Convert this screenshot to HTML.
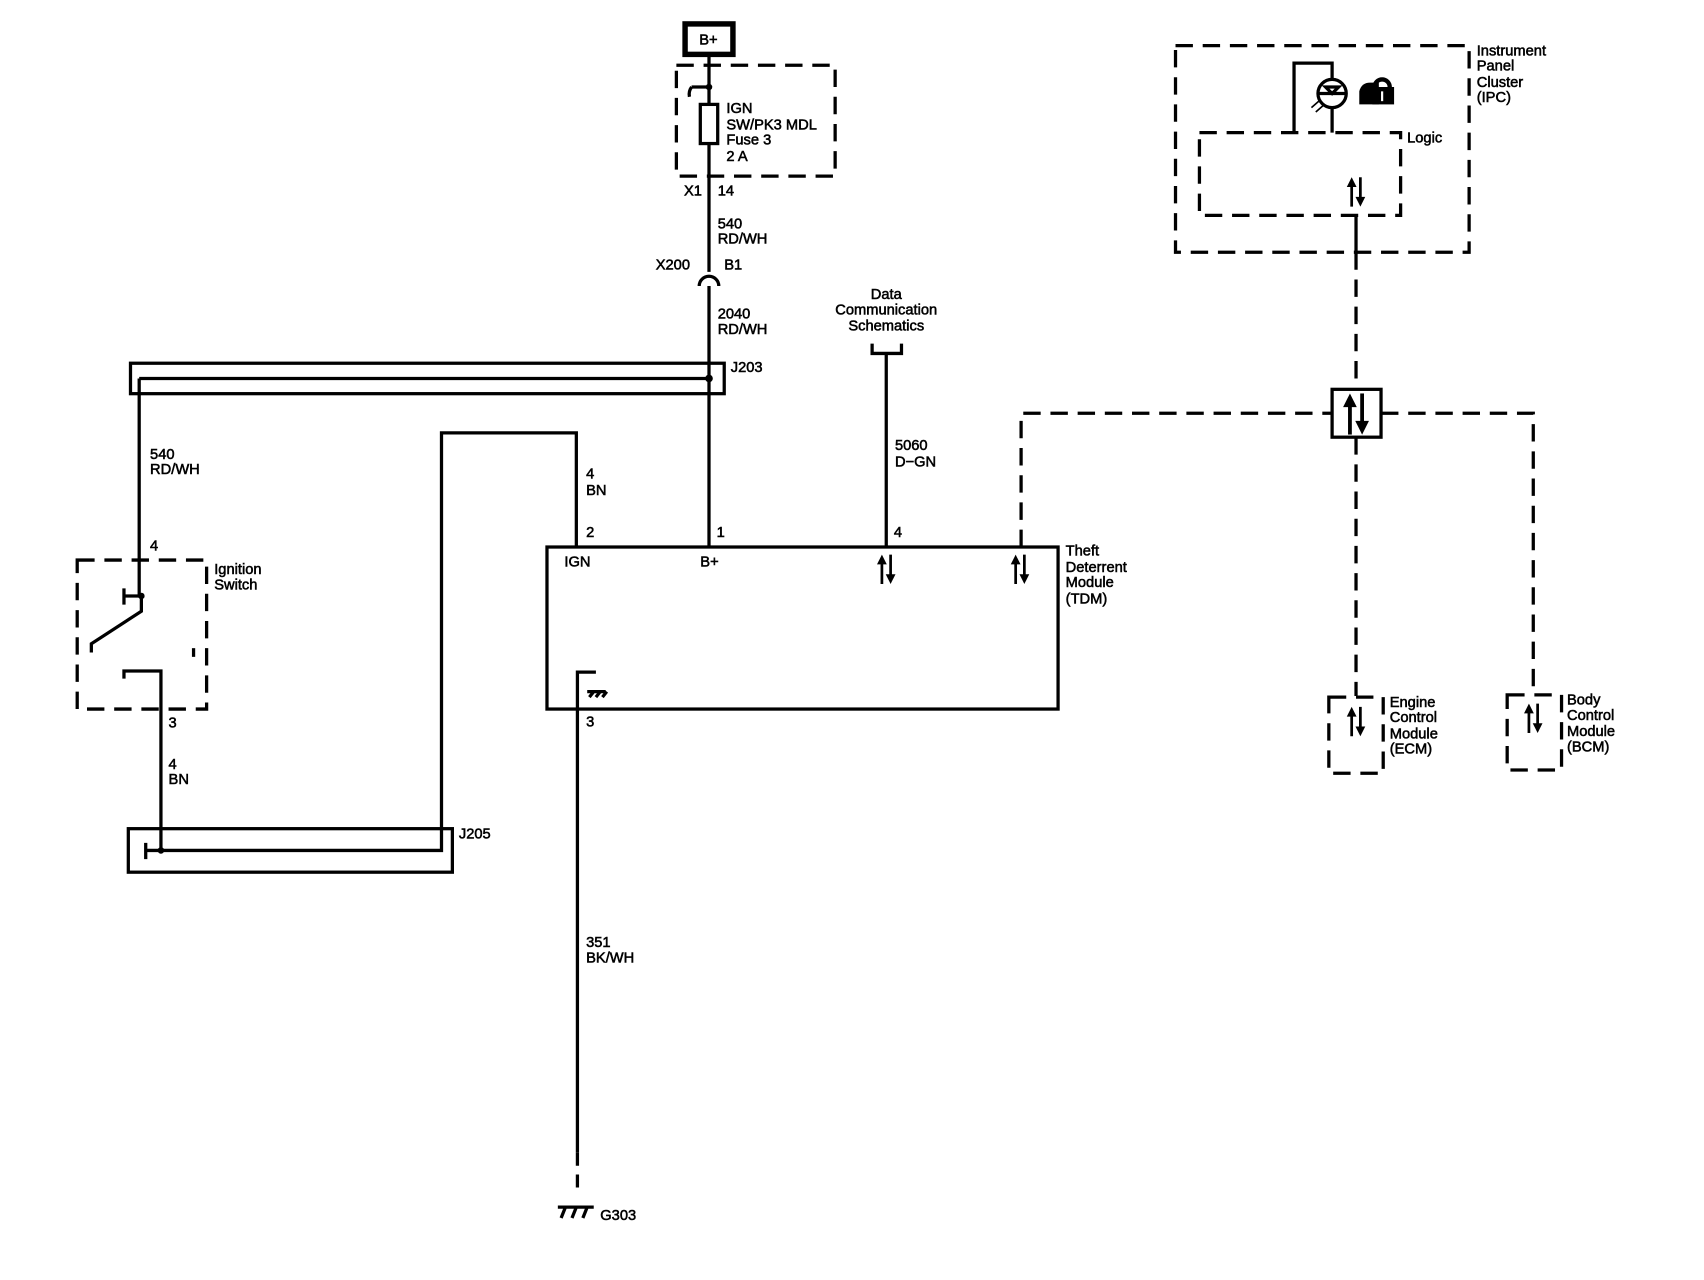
<!DOCTYPE html>
<html><head><meta charset="utf-8"><style>
html,body{margin:0;padding:0;background:#fff;}
svg{display:block;}
text{font-family:"Liberation Sans",Arial,sans-serif;font-size:13.5px;fill:#000;stroke:#000;stroke-width:0.5;}
</style></head><body>
<svg width="1704" height="1280" viewBox="0 0 1567 1177" preserveAspectRatio="none" xmlns="http://www.w3.org/2000/svg">
<defs>
<g id="ud">
<path d="M-4 14 V-6" stroke="#000" stroke-width="2.5" fill="none"/>
<path d="M-8.5 -4 L-4 -13 L0.5 -4 Z" fill="#000"/>
<path d="M4 -13 V7" stroke="#000" stroke-width="2.5" fill="none"/>
<path d="M-0.5 5 L4 14 L8.5 5 Z" fill="#000"/>
</g>
</defs>
<g fill="none" stroke="#000" stroke-width="3">
<rect x="630" y="22" width="44" height="28" stroke-width="5"/>
<rect x="622" y="60" width="146" height="102" stroke-dasharray="16 9"/>
<path d="M652 50 V250"/>
<path d="M652 80 H636 M636 80 q-3 4 -2 9"/>
<rect x="644" y="96" width="16" height="36" fill="#fff"/>
<path d="M643 263 a9 9 0 0 1 18 0"/>
<path d="M652 263 V503"/>
<rect x="120" y="334" width="546" height="28"/>
<path d="M128 348 H652"/>
<path d="M128 348 V548"/>
<rect x="71" y="515" width="119" height="137" stroke-dasharray="16 9"/>
<path d="M114 548 H130 M114 541 V556"/>
<path d="M130 548 V562 L84 592 V600"/>
<path d="M178 596 V604"/>
<path d="M114 624 V617 H148 V782"/>
<rect x="118" y="762" width="298" height="40"/>
<path d="M148 782 H406 V398 H530 V503"/>
<path d="M148 782 H134 M134 775 V790"/>
<rect x="503" y="503" width="470" height="149"/>
<path d="M531 652 V618 H548"/>
<path d="M540 636 H557 M542 641 l4 -5 M548 641 l4 -5 M554 641 l4 -5"/>
<path d="M531 652 V1060"/>
<path d="M531 1060 V1100" stroke-dasharray="12 8"/>
<path d="M513 1110 H546 M516 1120 l4 -10 M526 1120 l4 -10 M536 1120 l4 -10"/>
<path d="M802 316 V325 H829 V316"/>
<path d="M815 325 V503"/>
<path d="M939 503 V380 H1225" stroke-dasharray="16 9"/>
<rect x="1225" y="358" width="45" height="44"/>
<path d="M1270 380 H1410 V637" stroke-dasharray="16 9"/>
<path d="M1247 402 V640" stroke-dasharray="16 9"/>
<path d="M1247 232 V358" stroke-dasharray="16 9"/>
<path d="M1247 198 V232"/>
<rect x="1081" y="42" width="270" height="190" stroke-dasharray="16 9"/>
<rect x="1103" y="122" width="185" height="76" stroke-dasharray="16 9"/>
<path d="M1190 122 V58 H1225 V122"/>
<circle cx="1225" cy="86" r="13" fill="#fff"/>
<path d="M1213 86 H1237 M1219 80 h12 l-6 6 z"/>
<path d="M1210 103 l8 -7 M1206 99 l8 -7" stroke-width="1.5"/>
<rect x="1222" y="641" width="50" height="70" stroke-dasharray="16 9"/>
<rect x="1386" y="639" width="50" height="69" stroke-dasharray="16 9"/>
</g>
<g fill="#000">
<circle cx="652" cy="80" r="3"/>
<circle cx="652" cy="348" r="3.5"/>
<circle cx="130" cy="548" r="3"/>
<circle cx="148" cy="782" r="3"/>
<path d="M1250 96 V84 q2 -8 10 -8 h8 v20 z"/>
<path d="M1262 80 a9 9 0 0 1 18 0 v2 h-4 v-2 a5 5 0 0 0 -10 0z"/>
<rect x="1262" y="80" width="20" height="16"/>
<rect x="1270" y="84" width="2" height="9" fill="#fff"/>
</g>
<use href="#ud" x="815" y="523"/>
<use href="#ud" x="938" y="523"/>
<use href="#ud" x="1247" y="176"/>
<use href="#ud" x="1247" y="380" transform="translate(1247 380) scale(1.4) translate(-1247 -380)"/>
<use href="#ud" x="1247" y="663"/>
<use href="#ud" x="1410" y="660"/>
<g>
<text x="643" y="41">B+</text>
<text x="668" y="104">IGN</text>
<text x="668" y="119">SW/PK3 MDL</text>
<text x="668" y="133">Fuse 3</text>
<text x="668" y="148"> 2 A</text>
<text x="629" y="180">X1</text>
<text x="660" y="180">14</text>
<text x="660" y="210">540</text>
<text x="660" y="224">RD/WH</text>
<text x="603" y="248">X200</text>
<text x="666" y="248">B1</text>
<text x="660" y="293">2040</text>
<text x="660" y="307">RD/WH</text>
<text x="672" y="342">J203</text>
<text x="138" y="422">540</text>
<text x="138" y="436">RD/WH</text>
<text x="138" y="506">4</text>
<text x="197" y="528">Ignition</text>
<text x="197" y="542">Switch</text>
<text x="155" y="669">3</text>
<text x="155" y="707">4</text>
<text x="155" y="721">BN</text>
<text x="422" y="771">J205</text>
<text x="539" y="440">4</text>
<text x="539" y="455">BN</text>
<text x="539" y="494">2</text>
<text x="659" y="494">1</text>
<text x="822" y="494">4</text>
<text x="519" y="521">IGN</text>
<text x="644" y="521">B+</text>
<text x="815" y="275" text-anchor="middle">Data</text>
<text x="815" y="289" text-anchor="middle">Communication</text>
<text x="815" y="304" text-anchor="middle">Schematics</text>
<text x="823" y="414">5060</text>
<text x="823" y="429">D−GN</text>
<text x="980" y="511">Theft</text>
<text x="980" y="526">Deterrent</text>
<text x="980" y="540">Module</text>
<text x="980" y="555">(TDM)</text>
<text x="539" y="668">3</text>
<text x="539" y="871">351</text>
<text x="539" y="885">BK/WH</text>
<text x="552" y="1122">G303</text>
<text x="1358" y="51">Instrument</text>
<text x="1358" y="65">Panel</text>
<text x="1358" y="80">Cluster</text>
<text x="1358" y="94">(IPC)</text>
<text x="1294" y="131">Logic</text>
<text x="1278" y="650">Engine</text>
<text x="1278" y="664">Control</text>
<text x="1278" y="679">Module</text>
<text x="1278" y="693">(ECM)</text>
<text x="1441" y="648">Body</text>
<text x="1441" y="662">Control</text>
<text x="1441" y="677">Module</text>
<text x="1441" y="691">(BCM)</text>
</g>
</svg>
</body></html>
